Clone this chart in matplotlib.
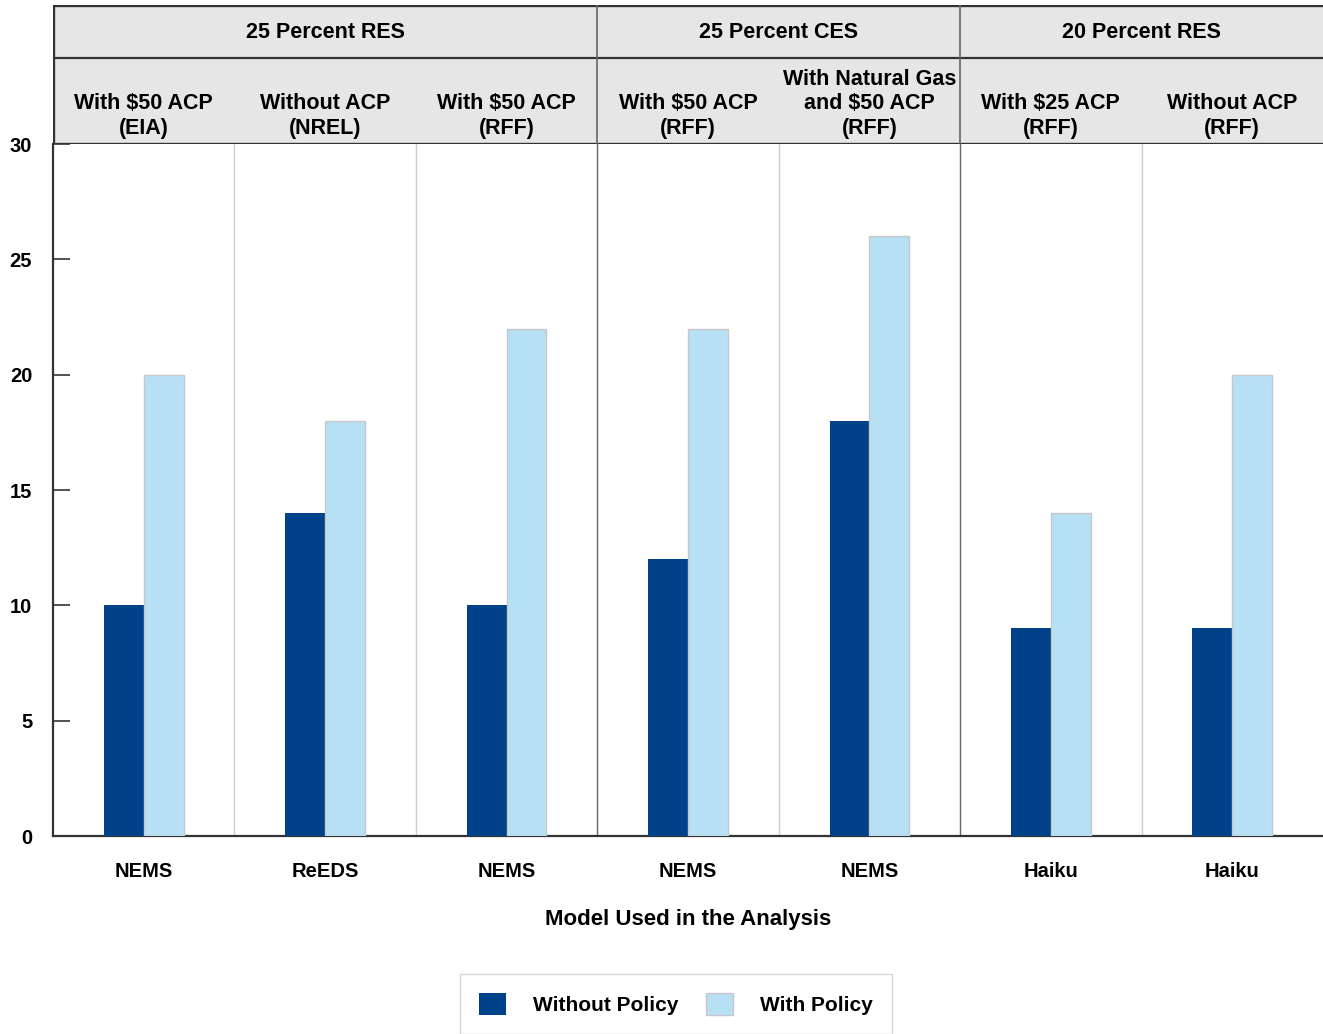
import numpy as np
import matplotlib
matplotlib.use("Agg")
import matplotlib.pyplot as plt
from matplotlib.patches import Rectangle

plt.rcParams["font.family"] = ["Liberation Sans", "DejaVu Sans"]
plt.rcParams["font.weight"] = "bold"

# ── data ─────────────────────────────────────────────────────────────────────
groups = ["25 Percent RES", "25 Percent CES", "20 Percent RES"]
group_sizes = [3, 2, 2]
scenarios = ["With \\$50 ACP\n(EIA)", "Without ACP\n(NREL)", "With \\$50 ACP\n(RFF)",
             "With \\$50 ACP\n(RFF)", "With Natural Gas\nand \\$50 ACP\n(RFF)",
             "With \\$25 ACP\n(RFF)", "Without ACP\n(RFF)"]
models = ["NEMS", "ReEDS", "NEMS", "NEMS", "NEMS", "Haiku", "Haiku"]
without_policy = [10, 14, 10, 12, 18, 9, 9]
with_policy = [20, 18, 22, 22, 26, 14, 20]

DARK = "#00428A"
LIGHT = "#B8E0F5"
HEAD = "#E6E6E6"
LINE = "#333333"

W, H = 1323, 1034
fig = plt.figure(figsize=(W / 100, H / 100), dpi=100, facecolor="white")

def fx(px):
    return px / W

def fy(px):
    return 1 - px / H

left, right, top, bottom = 53, 1323, 144, 836
ax = fig.add_axes([fx(left), fy(bottom), fx(right - left), fy(top) - fy(bottom)])
n = len(models)
x = np.arange(n) + 0.5
bw = 0.22
ax.bar(x - bw / 2, without_policy, bw, color=DARK, label="Without Policy", zorder=3)
ax.bar(x + bw / 2, with_policy, bw, color=LIGHT, edgecolor="#C8C8C8", lw=1.0,
       label="With Policy", zorder=3)
ax.set_xlim(0, n)
ax.set_ylim(0, 30)
ax.set_yticks(range(0, 31, 5))
ax.tick_params(axis="y", direction="in", length=12, width=1.2, color=LINE,
               labelsize=14.5, pad=15)
for lab in ax.get_yticklabels():
    lab.set_fontweight("bold")
ax.set_xticks(x)
ax.set_xticklabels(models, fontsize=14.5, fontweight="bold")
ax.tick_params(axis="x", length=0, pad=19)
ax.set_xlabel("Model Used in the Analysis", fontsize=16, fontweight="bold", labelpad=20)
for s in ["top", "right"]:
    ax.spines[s].set_visible(False)
ax.spines["left"].set_color(LINE)
ax.spines["left"].set_linewidth(1.6)
ax.spines["bottom"].set_color(LINE)
ax.spines["bottom"].set_linewidth(1.6)

# column dividers in the plot
bounds = np.cumsum(group_sizes)[:-1]
for b in range(1, n):
    if b in bounds:
        ax.axvline(b, color="#666666", lw=1.0, zorder=1)
    else:
        ax.axvline(b, color="#CCCCCC", lw=1.0, zorder=1)

# ── header table ─────────────────────────────────────────────────────────────
hx = fig.add_axes([fx(left), fy(top), fx(right - left), fy(5) - fy(top)])
hx.set_xlim(0, n)
hx.set_ylim(top, 5)
hx.axis("off")
hx.add_patch(Rectangle((0, 5), n, top - 5, color=HEAD, zorder=0))
hx.plot([0, n], [5, 5], color=LINE, lw=2.4)
hx.plot([0, n], [58, 58], color=LINE, lw=1.6)
hx.plot([0, n], [top, top], color=LINE, lw=2.4)
hx.plot([0, 0], [5, top], color=LINE, lw=2.4)
start = 0
for g, size in zip(groups, group_sizes):
    hx.text(start + size / 2, 33, g, ha="center", va="center", fontsize=15.5,
            fontweight="bold")
    if start > 0:
        hx.plot([start, start], [5, top], color="#666666", lw=1.2)
    start += size
for xi, sc in zip(x, scenarios):
    hx.text(xi, 139, sc, ha="center", va="bottom", fontsize=15.5,
            fontweight="bold", linespacing=1.22)

# ── legend ───────────────────────────────────────────────────────────────────
fig.legend(loc="center", bbox_to_anchor=(fx(676), fy(1004)), ncol=2,
           frameon=True, fancybox=False, edgecolor="#CCCCCC",
           handlelength=1.3, handleheight=1.3, columnspacing=1.3,
           handletextpad=1.3, borderpad=0.9, prop={"weight": "bold", "size": 15})

fig.savefig("out.png", dpi=100)
